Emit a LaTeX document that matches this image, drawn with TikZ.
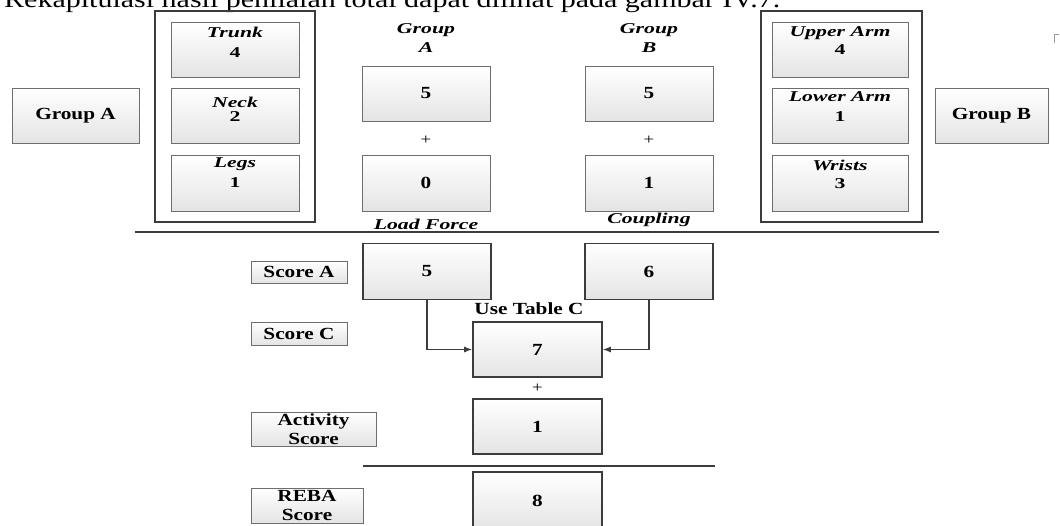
\documentclass[tikz,border=0pt]{standalone}
\usepackage{fontspec}
\setmainfont{Liberation Serif}[FakeStretch=1.25]
\newfontfamily\lblfont{Liberation Serif}[FakeStretch=1.45]
\usetikzlibrary{arrows.meta}
\definecolor{boxline}{HTML}{6E6E6E}
\definecolor{scoreline}{HTML}{3C3C3C}
\definecolor{boxfill}{HTML}{E4E4E4}

\begin{document}
\begin{tikzpicture}[x=1pt,y=-1pt,
    font=\bfseries\fontsize{17}{17}\selectfont,
    partbox/.style={draw=boxline, line width=0.8pt, top color=white, bottom color=boxfill,
      minimum width=128pt, minimum height=55pt, inner sep=0pt},
    scorebox/.style={draw=scoreline, line width=1.6pt, top color=white, bottom color=boxfill,
      minimum width=128pt, minimum height=56pt, inner sep=0pt},
    tagbox/.style={draw=boxline, line width=0.8pt, top color=white, bottom color=boxfill,
      inner sep=0pt, align=center, font=\bfseries\fontsize{17}{19}\selectfont},
    frame/.style={draw=scoreline, line width=1.6pt, inner sep=0pt},
    parttext/.style={inner sep=0pt, align=center, font=\lblfont\bfseries\itshape\fontsize{15}{18}\selectfont},
    plus/.style={inner sep=0pt, font=\fontsize{15}{15}\selectfont},
    arr/.style={draw=scoreline, line width=1.1pt, -{Latex[length=8pt,width=6pt]}}]
  \useasboundingbox (0,0) rectangle (1060,525);
  \clip (0,0) rectangle (1060,525);

  \node[anchor=base west, inner sep=0pt, font=\fontsize{24}{24}\selectfont] (intro) at (4,7)
    {Rekapitulasi hasil penilaian total dapat dilihat pada gambar IV.7.};

  % group A
  \node[partbox, minimum width=127pt] (grpA) at (75.5,115.5) {Group A};
  \node[frame, minimum width=160pt, minimum height=211pt] (frameA) at (235,116.5) {};
  \node[partbox] (trunk) at (235,49.5) {};
  \node[partbox] (neck) at (235,115.5) {};
  \node[partbox, minimum height=56pt] (legs) at (235,183) {};
  \node[parttext] (trunkT) at (235,42) {Trunk\\[2pt]\upshape 4};
  \node[parttext] (neckT) at (235,109) {Neck\\[-4pt]\upshape 2};
  \node[parttext] (legsT) at (235,173) {Legs\\[2pt]\upshape 1};

  \node[parttext, font=\lblfont\bfseries\itshape\fontsize{15}{19}\selectfont] (sumAT) at (426,38.5) {Group\\A};
  \node[partbox] (sumA) at (426,93.5) {5};
  \node[plus] (plusA) at (426,140) {+};
  \node[partbox, minimum height=56pt] (load) at (426,183) {0};
  \node[parttext] (loadT) at (426,224) {Load Force};

  % group B
  \node[parttext, font=\lblfont\bfseries\itshape\fontsize{15}{19}\selectfont] (sumBT) at (649,38.5) {Group\\B};
  \node[partbox] (sumB) at (649,93.5) {5};
  \node[plus] (plusB) at (649,140) {+};
  \node[partbox, minimum height=56pt] (coup) at (649,183) {1};
  \node[parttext] (coupT) at (649,220) {Coupling};

  \node[frame, minimum width=161pt, minimum height=211pt] (frameB) at (841.5,116.5) {};
  \node[partbox, minimum width=136pt] (upper) at (840,49.5) {};
  \node[partbox, minimum width=136pt] (lower) at (840,115.5) {};
  \node[partbox, minimum width=136pt, minimum height=56pt] (wrists) at (840,183) {};
  \node[parttext] (upperT) at (840,41) {Upper Arm\\\upshape 4};
  \node[parttext] (lowerT) at (840,107) {Lower Arm\\[2pt]\upshape 1};
  \node[parttext] (wristsT) at (840,174) {Wrists\\\upshape 3};
  \node[partbox, minimum width=113pt] (grpB) at (991.5,115.5) {Group B};

  \draw[boxline!70, line width=0.6pt] (1054,43) -- (1054,34) -- (1059,34);

  \draw[scoreline, line width=1.4pt] (135,232) -- (939,232);

  % scores
  \node[tagbox, minimum width=96pt, minimum height=22pt] (tagA) at (299,272) {Score A};
  \node[scorebox] (scA) at (427,271.5) {5};
  \node[scorebox] (scB) at (649,271.5) {6};
  \node[inner sep=0pt] (tableC) at (529,309) {Use Table C};
  \node[tagbox, minimum width=96pt, minimum height=23pt] (tagC) at (299,333.5) {Score C};
  \node[scorebox, minimum width=129pt, minimum height=55pt] (scC) at (537.5,349.5) {7};
  \draw[arr] (scA.south) |- (scC.west);
  \draw[arr] (scB.south) |- (scC.east);
  \node[plus] (plusC) at (537.5,388) {+};
  \node[tagbox, minimum width=125pt, minimum height=34pt] (tagAct) at (313.5,429) {Activity\\Score};
  \node[scorebox, minimum width=129pt, minimum height=55pt] (act) at (537.5,426.5) {1};

  \draw[scoreline, line width=1.4pt] (363,466) -- (715,466);

  \node[tagbox, minimum width=112pt, minimum height=35pt] (tagReba) at (307,505.5) {REBA\\Score};
  \node[scorebox, minimum width=129pt, minimum height=58pt] (reba) at (537.5,501) {8};
\end{tikzpicture}
\end{document}
